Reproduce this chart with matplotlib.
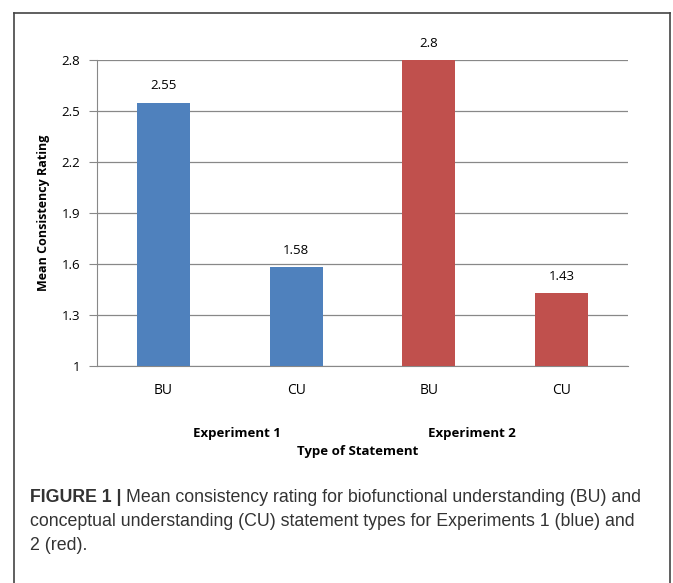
import matplotlib
matplotlib.use("Agg")
import matplotlib.pyplot as plt
from matplotlib.lines import Line2D

categories = ["BU", "CU", "BU", "CU"]
values = [2.55, 1.58, 2.8, 1.43]
value_labels = ["2.55", "1.58", "2.8", "1.43"]
colors = ["#4F81BD", "#4F81BD", "#C0504D", "#C0504D"]
yticks = [1, 1.3, 1.6, 1.9, 2.2, 2.5, 2.8]
ytick_labels = ["1", "1.3", "1.6", "1.9", "2.2", "2.5", "2.8"]
groups = ["Experiment 1", "Experiment 2"]

W, H = 673, 583
fig = plt.figure(figsize=(W / 100, H / 100), dpi=100)
font = "Open Sans"

ax = fig.add_axes([97 / W, 1 - 366 / H, (628 - 97) / W, (366 - 60) / H])
x = list(range(len(categories)))
ax.bar(x, [v - 1 for v in values], bottom=1, width=0.4, color=colors, zorder=3)
ax.set_xlim(-0.5, 3.5)
ax.set_ylim(1, 2.8)
ax.set_yticks(yticks)
ax.set_yticklabels(ytick_labels, fontsize=9.5, family=font)
ax.set_xticks(x)
ax.set_xticklabels(categories, fontsize=10, family=font)
ax.tick_params(axis="x", length=0, pad=12)
ax.tick_params(axis="y", length=6, color="#888888", pad=6)
ax.grid(axis="y", color="#888888", linewidth=0.9, zorder=0)
for s in ["top", "right"]:
    ax.spines[s].set_visible(False)
ax.spines["left"].set_color("#888888")
ax.spines["bottom"].set_color("#888888")
for xi, v, lab in zip(x, values, value_labels):
    ax.text(xi, v + 0.06, lab, ha="center", va="bottom", fontsize=9.5, family=font)

ax.set_ylabel("Mean Consistency Rating", fontsize=9, fontweight="bold", family=font, labelpad=8)

fig.text(237 / W, 1 - 433 / H, groups[0], ha="center", va="center", fontsize=9.5, fontweight="bold", family=font)
fig.text(472 / W, 1 - 433 / H, groups[1], ha="center", va="center", fontsize=9.5, fontweight="bold", family=font)
fig.text(358 / W, 1 - 452 / H, "Type of Statement", ha="center", va="center", fontsize=9.5, fontweight="bold", family=font)

# caption
cap_font = "Liberation Sans"
cap_size = 12.8
t1 = fig.text(30 / W, 1 - 497 / H, "FIGURE 1 | ", ha="left", va="center", fontsize=cap_size, fontweight="bold", family=cap_font, color="#333333")
fig.canvas.draw()
bb = t1.get_window_extent()
fig.text(bb.x1 / W, 1 - 497 / H, "Mean consistency rating for biofunctional understanding (BU) and", ha="left", va="center", fontsize=cap_size, family=cap_font, color="#333333")
fig.text(30 / W, 1 - 521 / H, "conceptual understanding (CU) statement types for Experiments 1 (blue) and", ha="left", va="center", fontsize=cap_size, family=cap_font, color="#333333")
fig.text(30 / W, 1 - 545 / H, "2 (red).", ha="left", va="center", fontsize=cap_size, family=cap_font, color="#333333")

# border
for xs, ys in [([14, 14], [13, H + 5]), ([14, 670], [13, 13]), ([670, 670], [13, H + 5])]:
    fig.add_artist(Line2D([v / W for v in xs], [1 - v / H for v in ys], color="#444444", linewidth=1.2, transform=fig.transFigure))

fig.savefig("out.png", dpi=100)
